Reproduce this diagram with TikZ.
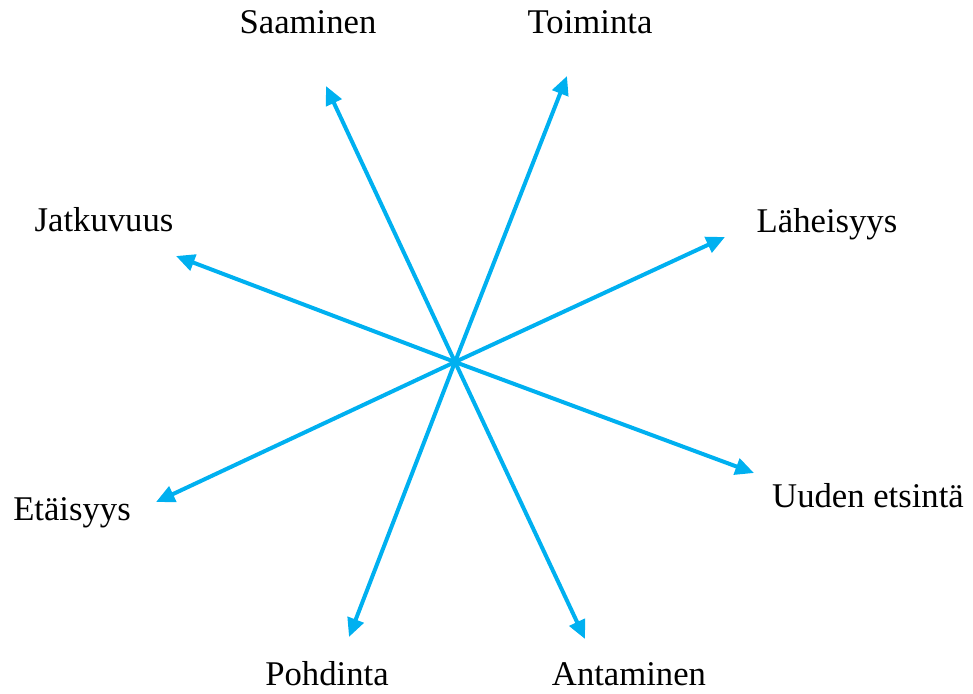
\documentclass[tikz,border=0pt]{standalone}
\usepackage{fontspec}
\setmainfont{Liberation Serif}
\usetikzlibrary{arrows.meta}
\definecolor{arrowblue}{RGB}{0,176,240}
\tikzset{
  spoke/.style={draw=arrowblue, line width=3pt, -{Triangle[length=14pt,width=12.5pt]}},
  lbl/.style={anchor=base, inner sep=0pt, font=\fontsize{26}{30}\selectfont}
}
\begin{document}
\begin{tikzpicture}[x=0.75pt,y=-0.75pt]
\useasboundingbox (0,0) rectangle (973,693);
\coordinate (c) at (455,362);
\coordinate (tS) at (326,86);
\coordinate (tT) at (567,76);
\coordinate (tL) at (725,237);
\coordinate (tU) at (754,473);
\coordinate (tA) at (585,639);
\coordinate (tP) at (349,637);
\coordinate (tE) at (156,502);
\coordinate (tJ) at (176,256);
\node[lbl] (S) at (308,33) {Saaminen};
\node[lbl] (T) at (590,33) {Toiminta};
\node[lbl] (L) at (827,232) {Läheisyys};
\node[lbl] (J) at (104,231) {Jatkuvuus};
\node[lbl] (E) at (72,520) {Etäisyys};
\node[lbl] (U) at (868,507) {Uuden etsintä};
\node[lbl] (P) at (327,685) {Pohdinta};
\node[lbl] (A) at (629,685) {Antaminen};
\foreach \t in {tS,tT,tL,tU,tA,tP,tE,tJ} \draw[spoke] (c) -- (\t);
\end{tikzpicture}
\end{document}
